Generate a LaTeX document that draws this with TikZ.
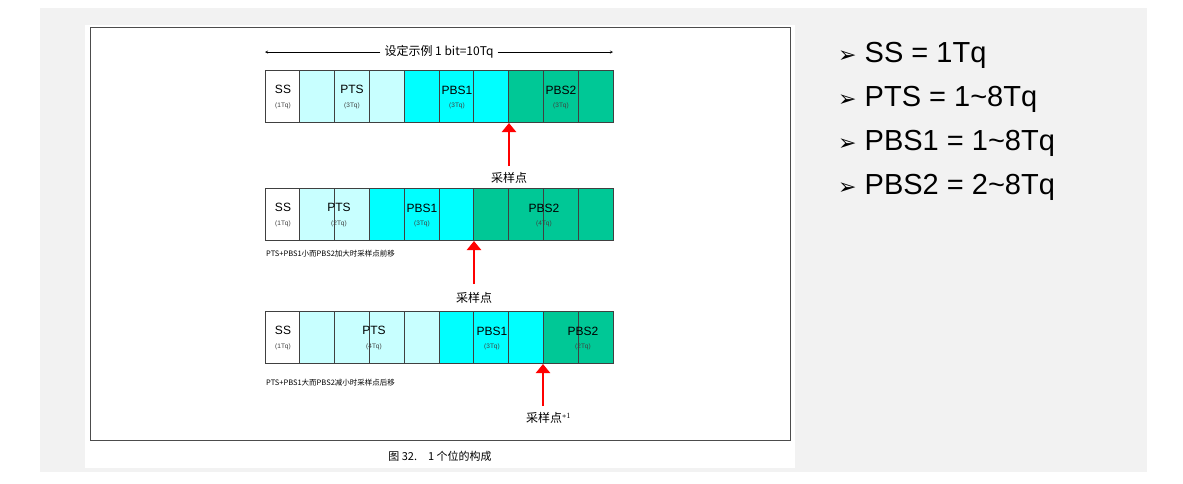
\documentclass[tikz,border=0pt]{standalone}
\usepackage{fontspec}
\usetikzlibrary{arrows.meta}
\setmainfont{Liberation Sans}
\newfontfamily\cjk{Noto Sans CJK SC}
\newfontfamily\dv{DejaVu Sans}
\definecolor{lc}{HTML}{C8FFFF}
\definecolor{cy}{HTML}{00FFFF}
\definecolor{gr}{HTML}{00C896}
\definecolor{bg}{HTML}{F2F2F2}
\begin{document}
\begin{tikzpicture}[x=1pt,y=-1pt,
  cell/.style={draw=black!75,line width=0.8pt},
  big/.style={font=\fontsize{12}{12}\selectfont,inner sep=0pt},
  sm/.style={font=\fontsize{6.5}{6.5}\selectfont,inner sep=0pt,text=black!75},
  note/.style={font=\cjk\fontsize{7.5}{7.5}\selectfont,anchor=west,inner sep=0pt},
  samp/.style={font=\cjk\fontsize{12}{12}\selectfont,inner sep=0pt},
  redarr/.style={draw=red,line width=2.5pt,-{Triangle[length=9pt,width=14pt]}},
  bul/.style={font=\fontsize{29}{29}\selectfont,anchor=west,inner sep=0pt}]
\useasboundingbox (0,0) rectangle (1183,483);
\fill[white] (0,0) rectangle (1183,483);
\fill[bg] (40,8) rectangle (1147,472);
\fill[white] (85,25) rectangle (795,468);
\draw[black!70,line width=0.8pt] (90,27) rectangle (790,440);
\node[font=\cjk\fontsize{11}{11}\selectfont] (cap) at (440,456) {图 32.\quad 1 个位的构成};
% top arrow
\node[font=\cjk\fontsize{12}{12}\selectfont,fill=white,inner xsep=4pt] (ttl) at (439,52) {设定示例 1 bit=10Tq};
\coordinate (tl) at (265,52); \coordinate (tr) at (613,52);
\draw[-stealth] (ttl.west) -- (tl);
\draw[-stealth] (ttl.east) -- (tr);
% rows
\foreach \y/\a/\b/\c in {70/3/3/3,188/2/3/4,311/4/3/2}{
  \pgfmathsetmacro{\w}{34.8}
  \draw[cell,fill=white] (265,\y) rectangle ++(\w,52);
  \foreach \i in {1,...,9}{
    \pgfmathtruncatemacro{\ia}{\a}
    \pgfmathtruncatemacro{\ib}{\a+\b}
    \ifnum\i>\ib \def\cc{gr}\else\ifnum\i>\ia \def\cc{cy}\else\def\cc{lc}\fi\fi
    \draw[cell,fill=\cc] (265+\i*\w,\y) rectangle ++(\w,52);
  }
}
% labels
\foreach \y/\px/\pa/\qx/\qa/\rx/\ra in {70/352/3/457/3/561/3,188/339/2/422/3/544/4,311/374/4/492/3/583/2}{
  \node[big] (ss\y) at (283,\y+19) {SS}; \node[sm] (sst\y) at (283,\y+36) {(1Tq)};
  \node[big] (pts\y) at (\px,\y+19) {PTS}; \node[sm] (ptst\y) at (\px,\y+36) {(\pa Tq)};
  \node[big] (p1\y) at (\qx,\y+20) {PBS1}; \node[sm] (p1t\y) at (\qx,\y+36) {(\qa Tq)};
  \node[big] (p2\y) at (\rx,\y+20) {PBS2}; \node[sm] (p2t\y) at (\rx,\y+36) {(\ra Tq)};
}
% arrows
\node[samp] (s1) at (509,178) {采样点};
\coordinate (a1) at (509,123);
\draw[redarr] (509,166) -- (a1);
\node[samp] (s2) at (474,298) {采样点};
\coordinate (a2) at (474,241);
\draw[redarr] (474,284) -- (a2);
\node[samp,anchor=west] (s3) at (526,418) {采样点$^{*1}$};
\coordinate (a3) at (543,364);
\draw[redarr] (543,406) -- (a3);
\node[note] (n2) at (266,254) {PTS+PBS1小而PBS2加大时采样点前移};
\node[note] (n3) at (266,383) {PTS+PBS1大而PBS2减小时采样点后移};
% bullets
\node[bul] (b1) at (838,55) {{\dv\fontsize{22}{22}\selectfont ➢} SS = 1Tq};
\node[bul] (b2) at (838,99) {{\dv\fontsize{22}{22}\selectfont ➢} PTS = 1\textasciitilde 8Tq};
\node[bul] (b3) at (838,143) {{\dv\fontsize{22}{22}\selectfont ➢} PBS1 = 1\textasciitilde 8Tq};
\node[bul] (b4) at (838,187) {{\dv\fontsize{22}{22}\selectfont ➢} PBS2 = 2\textasciitilde 8Tq};
\end{tikzpicture}
\end{document}
